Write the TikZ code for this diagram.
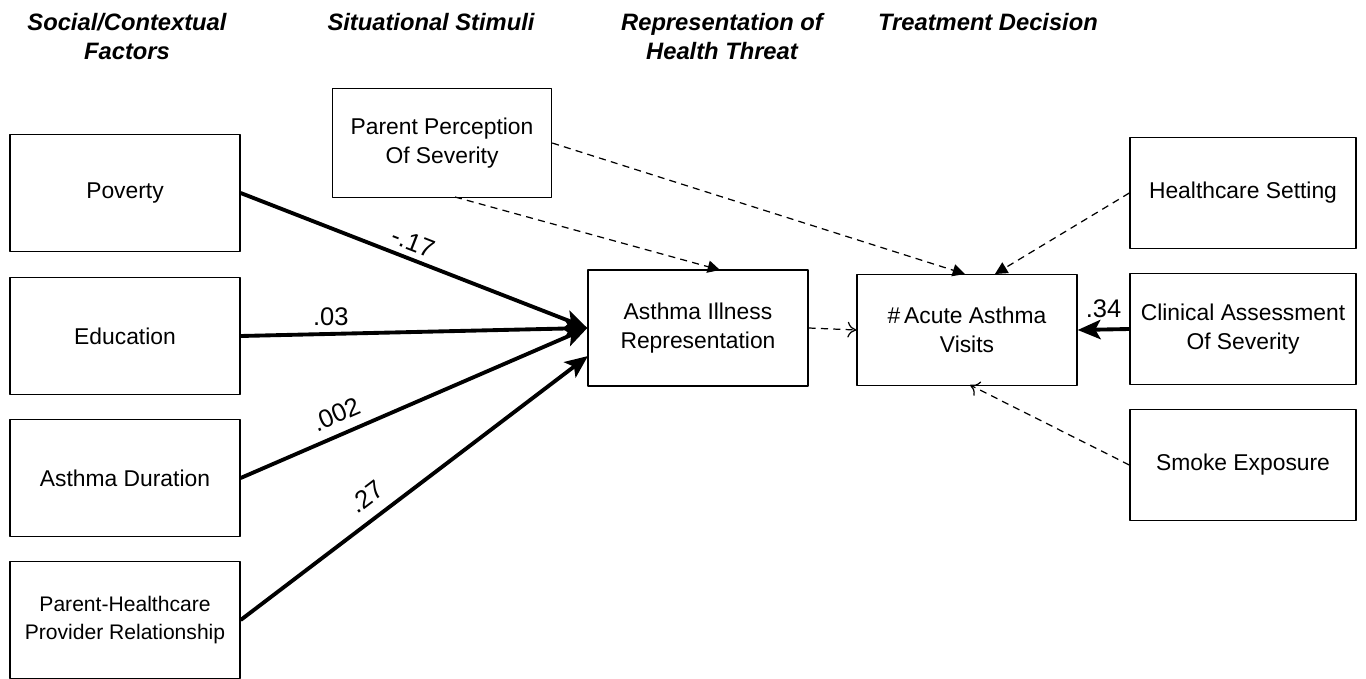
\documentclass[tikz,border=0pt]{standalone}
\usepackage{fontspec}
\setmainfont{Liberation Sans}
\usetikzlibrary{arrows.meta,positioning,calc}

\begin{document}
\begin{tikzpicture}[x=0.02cm,y=-0.02cm,line join=round,
	box/.style={draw,line width=0.8pt,minimum width=4.6cm,minimum height=2.34cm,align=center,inner sep=1pt,font=\fontsize{13}{16.5}\selectfont},
	head/.style={align=center,font=\fontsize{13.5}{16.5}\selectfont\bfseries\itshape},
	strong/.style={line width=2.2pt,-{Stealth[length=13pt,width=11pt,inset=3pt]}},
	weak/.style={line width=0.7pt,dash pattern=on 4pt off 3pt},
	coef/.style={font=\fontsize{14.5}{16}\selectfont}]
\useasboundingbox (0,0) rectangle (1366,679);
% column headings
\node[head] (h1) at (127,37) {Social/Contextual\\Factors};
\node[head] (h2) at (431,22) {Situational Stimuli};
\node[head] (h3) at (722,37) {Representation of\\Health Threat};
\node[head] (h4) at (988,22) {Treatment Decision};
% social / contextual factors
\node[box] (pov) at (125,193) {Poverty};
\node[box] (edu) at (125,336) {Education};
\node[box] (dur) at (125,478) {Asthma Duration};
\node[box,font=\fontsize{12}{16}\selectfont] (rel) at (125,620) {Parent-Healthcare\\Provider Relationship};
% stimulus, representation, decision
\node[box,minimum width=4.38cm,minimum height=2.18cm] (pps) at (442,143) {Parent Perception\\Of Severity};
\node[box,minimum width=4.4cm,minimum height=2.32cm] (air) at (698,328) {Asthma Illness\\Representation};
\node[box,minimum width=4.4cm,minimum height=2.22cm] (vis) at (967,330) {\#\,Acute Asthma\\Visits};
% treatment side
\node[box,minimum width=4.52cm,minimum height=2.22cm] (hcs) at (1243,193) {Healthcare Setting};
\node[box,minimum width=4.52cm,minimum height=2.22cm] (cas) at (1243,329) {Clinical Assessment\\Of Severity};
\node[box,minimum width=4.52cm,minimum height=2.22cm] (smk) at (1243,465) {Smoke Exposure};
\coordinate (airlow) at (588,356);
\coordinate (airtop) at (720,270);
\coordinate (vistop) at (965,274);
\coordinate (vistop2) at (995,274);
\coordinate (visbot) at (970,385);
\coordinate (ppsbot) at (455,197);
% paths with coefficients
\draw[strong] (pov.east) -- (air.west) node[pos=0.48,above,sloped,coef]{-.17};
\draw[strong] (edu.east) -- (air.west) node[pos=0.26,above,coef]{.03};
\draw[strong] (dur.east) -- (air.west) node[pos=0.3,above=2pt,sloped,coef]{.002};
\draw[strong] (rel.east) -- (airlow) node[pos=0.4,above=3pt,sloped,coef]{.27};
\draw[strong] (cas.west) -- (vis.east) node[pos=0.5,above=2pt,coef]{.34};
% dashed links
\draw[weak,-{Triangle[length=7pt,width=7pt]}] (ppsbot) -- (airtop);
\draw[weak,-{Triangle[length=7pt,width=7pt]}] (pps.east) -- (vistop);
\draw[weak,-{Triangle[length=7pt,width=7pt]}] (hcs.west) -- (vistop2);
\draw[weak,-{To[length=5pt,width=9pt]}] (air.east) -- (vis.west);
\draw[weak,-{To[length=5pt,width=9pt]}] (smk.west) -- (visbot);
\end{tikzpicture}
\end{document}
